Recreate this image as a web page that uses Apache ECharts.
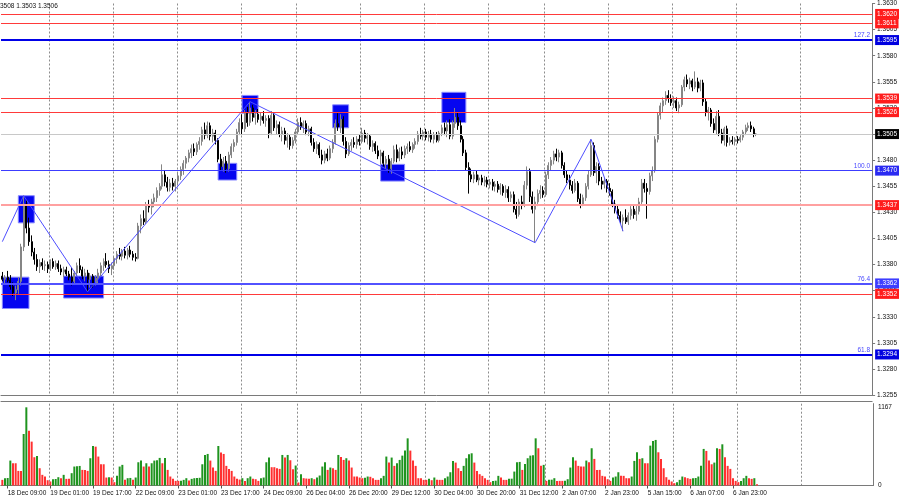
<!DOCTYPE html>
<html><head><meta charset="utf-8">
<script src="https://cdn.jsdelivr.net/npm/echarts@6/dist/echarts.min.js"></script>
<style>html,body{margin:0;padding:0;background:#fff}#c{width:900px;height:500px}</style>
</head><body><div id="c"></div>
<script>
// trading sessions (day, first hour, last hour) -> hourly categories
const sessions = [['18 Dec',7,23],['19 Dec',0,23],['22 Dec',0,23],['23 Dec',0,23],['24 Dec',0,20],['26 Dec',0,23],['29 Dec',0,23],['30 Dec',0,23],['31 Dec',0,20],['2 Jan',0,23],['5 Jan',0,23],['6 Jan',0,23],['7 Jan',0,23],['8 Jan',0,23],['9 Jan',0,3]];

// hourly candles [open, high, low, close]
const candles = [
[1.3369,1.3373,1.3364,1.3366],[1.3366,1.3370,1.3362,1.3368],[1.3368,1.3374,1.3363,1.3365],[1.3365,1.3370,1.3356,1.3359],[1.3359,1.3363,1.3350,1.3353],
[1.3353,1.3360,1.3346,1.3356],[1.3356,1.3368,1.3352,1.3364],[1.3364,1.3400,1.3360,1.3397],[1.3397,1.3446,1.3393,1.3438],[1.3438,1.3442,1.3410,1.3415],
[1.3415,1.3425,1.3398,1.3402],[1.3402,1.3408,1.3388,1.3392],[1.3392,1.3396,1.3380,1.3385],[1.3385,1.3390,1.3374,1.3378],[1.3378,1.3385,1.3372,1.3382],
[1.3382,1.3386,1.3375,1.3379],[1.3379,1.3384,1.3374,1.3380],[1.3380,1.3383,1.3372,1.3376],[1.3376,1.3385,1.3374,1.3383],[1.3383,1.3386,1.3376,1.3378],
[1.3378,1.3384,1.3375,1.3381],[1.3381,1.3384,1.3373,1.3376],[1.3376,1.3380,1.3370,1.3373],[1.3373,1.3378,1.3368,1.3375],[1.3375,1.3378,1.3369,1.3371],
[1.3371,1.3374,1.3365,1.3368],[1.3368,1.3377,1.3360,1.3364],[1.3364,1.3374,1.3362,1.3372],[1.3372,1.3382,1.3369,1.3379],[1.3379,1.3386,1.3372,1.3375],
[1.3375,1.3378,1.3366,1.3369],[1.3369,1.3376,1.3364,1.3372],[1.3372,1.3375,1.3354,1.3366],[1.3366,1.3372,1.3358,1.3369],[1.3369,1.3371,1.3358,1.3361],
[1.3361,1.3370,1.3360,1.3367],[1.3367,1.3376,1.3362,1.3372],[1.3372,1.3382,1.3368,1.3379],[1.3379,1.3386,1.3374,1.3383],[1.3383,1.3391,1.3377,1.3380],
[1.3380,1.3384,1.3372,1.3376],[1.3376,1.3382,1.3370,1.3379],[1.3379,1.3388,1.3375,1.3386],[1.3386,1.3393,1.3381,1.3390],[1.3390,1.3396,1.3385,1.3388],
[1.3388,1.3395,1.3384,1.3393],[1.3393,1.3397,1.3386,1.3389],[1.3389,1.3396,1.3385,1.3394],[1.3394,1.3398,1.3387,1.3390],[1.3390,1.3393,1.3384,1.3387],
[1.3387,1.3391,1.3383,1.3386],[1.3386,1.3420,1.3385,1.3417],[1.3417,1.3428,1.3410,1.3424],[1.3424,1.3432,1.3418,1.3421],[1.3421,1.3440,1.3419,1.3437],
[1.3437,1.3442,1.3430,1.3435],[1.3435,1.3443,1.3428,1.3440],[1.3440,1.3448,1.3435,1.3444],[1.3444,1.3454,1.3440,1.3451],[1.3451,1.3458,1.3446,1.3455],
[1.3455,1.3476,1.3452,1.3466],[1.3466,1.3470,1.3455,1.3459],[1.3459,1.3464,1.3450,1.3454],[1.3454,1.3462,1.3450,1.3458],[1.3458,1.3463,1.3451,1.3455],
[1.3455,1.3462,1.3450,1.3460],[1.3460,1.3468,1.3456,1.3465],[1.3465,1.3474,1.3461,1.3471],[1.3471,1.3480,1.3466,1.3477],[1.3477,1.3484,1.3472,1.3482],
[1.3482,1.3490,1.3478,1.3487],[1.3487,1.3495,1.3482,1.3491],[1.3491,1.3496,1.3484,1.3488],[1.3488,1.3497,1.3485,1.3495],[1.3495,1.3502,1.3490,1.3498],
[1.3498,1.3512,1.3494,1.3509],[1.3509,1.3516,1.3500,1.3504],[1.3504,1.3517,1.3501,1.3513],[1.3513,1.3516,1.3499,1.3503],[1.3503,1.3510,1.3497,1.3506],
[1.3506,1.3509,1.3495,1.3499],[1.3499,1.3501,1.3478,1.3481],[1.3481,1.3486,1.3470,1.3474],[1.3474,1.3483,1.3469,1.3479],[1.3479,1.3484,1.3468,1.3472],
[1.3472,1.3488,1.3469,1.3485],[1.3485,1.3496,1.3482,1.3493],[1.3493,1.3500,1.3488,1.3497],[1.3497,1.3510,1.3494,1.3507],[1.3507,1.3520,1.3504,1.3516],
[1.3516,1.3524,1.3505,1.3510],[1.3510,1.3528,1.3507,1.3525],[1.3525,1.3531,1.3512,1.3516],[1.3516,1.3536,1.3513,1.3530],[1.3530,1.3533,1.3517,1.3521],
[1.3521,1.3528,1.3514,1.3524],[1.3524,1.3529,1.3516,1.3519],[1.3519,1.3526,1.3513,1.3522],[1.3522,1.3527,1.3515,1.3518],[1.3518,1.3523,1.3512,1.3520],
[1.3520,1.3523,1.3501,1.3506],[1.3506,1.3527,1.3504,1.3523],[1.3523,1.3526,1.3508,1.3511],[1.3511,1.3518,1.3505,1.3514],[1.3514,1.3517,1.3502,1.3505],
[1.3505,1.3512,1.3498,1.3508],[1.3508,1.3511,1.3495,1.3499],[1.3499,1.3506,1.3492,1.3502],[1.3502,1.3505,1.3490,1.3494],[1.3494,1.3502,1.3491,1.3499],
[1.3499,1.3510,1.3496,1.3507],[1.3507,1.3520,1.3504,1.3516],[1.3516,1.3521,1.3509,1.3512],[1.3512,1.3518,1.3506,1.3515],[1.3515,1.3518,1.3504,1.3507],
[1.3507,1.3513,1.3503,1.3510],[1.3510,1.3512,1.3494,1.3497],[1.3497,1.3501,1.3488,1.3491],[1.3491,1.3498,1.3486,1.3495],[1.3495,1.3497,1.3482,1.3485],
[1.3485,1.3490,1.3476,1.3480],[1.3480,1.3489,1.3477,1.3486],[1.3486,1.3491,1.3479,1.3482],[1.3482,1.3494,1.3480,1.3491],[1.3491,1.3500,1.3487,1.3497],
[1.3497,1.3519,1.3495,1.3515],[1.3515,1.3525,1.3508,1.3512],[1.3512,1.3524,1.3506,1.3519],[1.3519,1.3522,1.3494,1.3498],[1.3498,1.3502,1.3482,1.3486],
[1.3486,1.3497,1.3484,1.3494],[1.3494,1.3500,1.3489,1.3497],[1.3497,1.3502,1.3492,1.3495],[1.3495,1.3503,1.3491,1.3500],[1.3500,1.3505,1.3494,1.3498],
[1.3498,1.3511,1.3496,1.3506],[1.3506,1.3509,1.3497,1.3501],[1.3501,1.3506,1.3495,1.3503],[1.3503,1.3505,1.3490,1.3493],[1.3493,1.3499,1.3488,1.3496],
[1.3496,1.3498,1.3486,1.3489],[1.3489,1.3494,1.3481,1.3484],[1.3484,1.3490,1.3476,1.3487],[1.3487,1.3489,1.3474,1.3477],[1.3477,1.3484,1.3472,1.3481],
[1.3481,1.3485,1.3468,1.3472],[1.3472,1.3482,1.3467,1.3479],[1.3479,1.3494,1.3477,1.3490],[1.3490,1.3495,1.3478,1.3482],[1.3482,1.3492,1.3479,1.3488],
[1.3488,1.3493,1.3481,1.3485],[1.3485,1.3494,1.3482,1.3491],[1.3491,1.3496,1.3486,1.3493],[1.3493,1.3498,1.3488,1.3490],[1.3490,1.3497,1.3487,1.3495],
[1.3495,1.3501,1.3491,1.3498],[1.3498,1.3508,1.3495,1.3505],[1.3505,1.3511,1.3500,1.3503],[1.3503,1.3509,1.3499,1.3507],[1.3507,1.3510,1.3499,1.3502],
[1.3502,1.3508,1.3498,1.3505],[1.3505,1.3509,1.3497,1.3500],[1.3500,1.3507,1.3496,1.3504],[1.3504,1.3507,1.3497,1.3499],[1.3499,1.3508,1.3497,1.3506],
[1.3506,1.3514,1.3503,1.3511],[1.3511,1.3516,1.3504,1.3508],[1.3508,1.3518,1.3502,1.3514],[1.3514,1.3519,1.3500,1.3503],[1.3503,1.3518,1.3500,1.3515],
[1.3515,1.3530,1.3511,1.3521],[1.3521,1.3526,1.3509,1.3513],[1.3513,1.3518,1.3497,1.3500],[1.3500,1.3503,1.3484,1.3487],[1.3487,1.3490,1.3470,1.3473],
[1.3473,1.3478,1.3448,1.3466],[1.3466,1.3472,1.3459,1.3462],[1.3462,1.3469,1.3458,1.3466],[1.3466,1.3470,1.3459,1.3461],[1.3461,1.3466,1.3456,1.3463],
[1.3463,1.3466,1.3456,1.3459],[1.3459,1.3465,1.3455,1.3461],[1.3461,1.3464,1.3454,1.3457],[1.3457,1.3462,1.3453,1.3459],[1.3459,1.3462,1.3451,1.3455],
[1.3455,1.3460,1.3450,1.3457],[1.3457,1.3460,1.3449,1.3452],[1.3452,1.3458,1.3447,1.3455],[1.3455,1.3457,1.3446,1.3449],[1.3449,1.3456,1.3444,1.3452],
[1.3452,1.3455,1.3440,1.3444],[1.3444,1.3450,1.3440,1.3447],[1.3447,1.3450,1.3430,1.3433],[1.3433,1.3440,1.3424,1.3428],[1.3428,1.3443,1.3426,1.3440],
[1.3440,1.3446,1.3433,1.3437],[1.3437,1.3460,1.3435,1.3456],[1.3456,1.3474,1.3452,1.3469],[1.3469,1.3472,1.3440,1.3445],[1.3445,1.3450,1.3429,1.3433],
[1.3433,1.3445,1.3401,1.3440],[1.3440,1.3452,1.3436,1.3448],[1.3448,1.3456,1.3443,1.3451],[1.3451,1.3455,1.3444,1.3447],[1.3447,1.3469,1.3445,1.3466],
[1.3466,1.3478,1.3462,1.3475],[1.3475,1.3483,1.3470,1.3480],[1.3480,1.3489,1.3476,1.3486],[1.3486,1.3491,1.3479,1.3483],[1.3483,1.3490,1.3478,1.3487],
[1.3487,1.3489,1.3472,1.3475],[1.3475,1.3478,1.3463,1.3466],[1.3466,1.3470,1.3458,1.3461],[1.3461,1.3466,1.3452,1.3456],[1.3456,1.3460,1.3448,1.3451],
[1.3451,1.3462,1.3449,1.3458],[1.3458,1.3460,1.3440,1.3443],[1.3443,1.3448,1.3434,1.3438],[1.3438,1.3447,1.3436,1.3444],[1.3444,1.3458,1.3441,1.3455],
[1.3455,1.3470,1.3452,1.3466],[1.3466,1.3500,1.3464,1.3494],[1.3494,1.3497,1.3465,1.3468],[1.3468,1.3478,1.3458,1.3474],[1.3474,1.3477,1.3456,1.3460],
[1.3460,1.3464,1.3452,1.3457],[1.3457,1.3463,1.3453,1.3460],[1.3460,1.3462,1.3449,1.3453],[1.3453,1.3458,1.3446,1.3450],[1.3450,1.3452,1.3435,1.3438],
[1.3438,1.3442,1.3429,1.3433],[1.3433,1.3438,1.3424,1.3427],[1.3427,1.3431,1.3419,1.3422],[1.3422,1.3428,1.3412,1.3425],[1.3425,1.3433,1.3419,1.3421],
[1.3421,1.3430,1.3418,1.3427],[1.3427,1.3436,1.3423,1.3433],[1.3433,1.3437,1.3424,1.3428],[1.3428,1.3436,1.3422,1.3431],[1.3431,1.3444,1.3428,1.3440],
[1.3440,1.3462,1.3437,1.3458],[1.3458,1.3462,1.3449,1.3453],[1.3453,1.3458,1.3424,1.3450],[1.3450,1.3468,1.3447,1.3465],[1.3465,1.3474,1.3460,1.3470],
[1.3470,1.3503,1.3468,1.3500],[1.3500,1.3526,1.3497,1.3523],[1.3523,1.3535,1.3519,1.3532],[1.3532,1.3540,1.3526,1.3537],[1.3537,1.3546,1.3533,1.3542],
[1.3542,1.3547,1.3535,1.3539],[1.3539,1.3543,1.3532,1.3535],[1.3535,1.3541,1.3530,1.3537],[1.3537,1.3540,1.3527,1.3530],[1.3530,1.3536,1.3525,1.3533],
[1.3533,1.3552,1.3531,1.3550],[1.3550,1.3560,1.3546,1.3557],[1.3557,1.3562,1.3550,1.3553],[1.3553,1.3559,1.3548,1.3556],[1.3556,1.3558,1.3546,1.3550],
[1.3550,1.3565,1.3548,1.3555],[1.3555,1.3559,1.3545,1.3549],[1.3549,1.3557,1.3546,1.3554],[1.3554,1.3557,1.3532,1.3536],[1.3536,1.3539,1.3522,1.3526],
[1.3526,1.3531,1.3518,1.3528],[1.3528,1.3530,1.3512,1.3515],[1.3515,1.3520,1.3506,1.3509],[1.3509,1.3527,1.3505,1.3522],[1.3522,1.3528,1.3503,1.3506],
[1.3506,1.3510,1.3496,1.3499],[1.3499,1.3512,1.3494,1.3510],[1.3510,1.3513,1.3493,1.3497],[1.3497,1.3502,1.3494,1.3499],[1.3499,1.3503,1.3495,1.3498],
[1.3498,1.3502,1.3494,1.3500],[1.3500,1.3503,1.3496,1.3499],[1.3499,1.3504,1.3497,1.3502],[1.3502,1.3509,1.3499,1.3507],[1.3507,1.3514,1.3504,1.3511],
[1.3511,1.3516,1.3508,1.3513],[1.3513,1.3517,1.3507,1.3510],[1.3510,1.3512,1.3502,1.3505],[1.3505,1.3506,1.3503,1.3505]
];

// tick volumes per bar
const volumes = [
84,109,112,372,332,332,218,218,769,1167,818,655,422,441,258,159,134,79,60,94,
97,124,109,159,99,99,184,283,288,292,233,233,218,407,590,580,432,317,317,119,
124,119,50,144,283,308,84,109,113,84,119,347,372,283,332,283,332,372,377,412,
332,412,233,134,99,69,69,72,84,109,74,99,109,112,115,317,456,471,372,268,
218,590,491,471,293,248,218,134,99,89,109,69,109,134,99,94,69,109,119,347,
417,273,273,258,248,456,417,456,377,243,298,45,169,109,104,99,109,94,119,149,
283,347,233,268,258,233,456,427,382,407,372,268,134,134,119,109,114,134,130,109,
84,84,109,144,432,342,417,293,332,382,446,521,704,521,372,293,109,109,84,84,
99,79,119,84,84,84,109,134,198,367,342,258,218,293,407,466,481,342,218,169,
144,109,84,50,69,72,144,119,84,84,99,102,208,347,352,233,322,407,446,451,
704,556,293,308,69,84,87,109,69,69,69,72,94,268,422,372,293,283,283,372,
347,556,397,233,233,144,134,94,69,119,134,198,144,144,109,109,134,367,496,397,
407,332,332,595,665,680,496,397,258,124,84,60,35,50,84,134,124,109,99,109,
112,134,293,546,516,372,317,342,556,546,615,422,293,248,109,69,50,69,109,144,
109,99,109,20
];

// horizontal levels
const levels     = [1.3620, 1.3611, 1.3595, 1.3539, 1.3526, 1.3505, 1.3470, 1.3437, 1.3362, 1.3352, 1.3294];
const levelKinds = ['res','res','fibA','res','res','price','fibB','res2','fibC','res','fibA'];
const fibLevels  = [1.3595, 1.3470, 1.3362, 1.3294];
const fibNames   = ['127.2','100.0','76.4','61.8'];

// zigzag vertices (bar index, price)
const zigzagIdx = [0, 8, 32, 93, 200, 221, 233];
const zigzagVal = [1.3402, 1.3446, 1.3354, 1.3536, 1.3401, 1.3500, 1.3412];

// blue boxes [first bar, last bar, low price, high price]
const boxes = [[0,10,1.3338,1.3368],[6,12,1.3420,1.3446],[23,38,1.3348,1.3369],[81,88,1.3461,1.3477],
               [90,96,1.3525,1.3542],[124,130,1.3511,1.3533],[142,151,1.3460,1.3476],[165,174,1.3516,1.3545]];

const priceBottom = 1.3255, priceTop = 1.3630, priceStep = 0.0025;
const volTick = 1167, volTop = 1221;
const headerText = '3508 1.3503 1.3506';

// ---------- build ----------
const categories = [];
sessions.forEach(([d, h0, h1]) => { for (let h = h0; h <= h1; h++) categories.push(d + ' ' + String(h).padStart(2, '0') + ':00'); });
const P = p => Math.round((p - priceBottom) * 1e6) / 100;   // price -> pips above axis bottom
const FONT = 'Liberation Sans';
const FS = 6.5;
const nBars = candles.length;

const styles = {
  res:   {line: {color: '#ff3a3a', width: 1}, box: '#ff1c1c'},
  res2:  {line: {color: '#ffa0a0', width: 2}, box: '#ff1c1c'},
  fibA:  {line: {color: '#0000e8', width: 2}, box: '#0000e0'},
  fibB:  {line: {color: '#3c3cff', width: 1}, box: '#2a2af2'},
  fibC:  {line: {color: '#5252ff', width: 2}, box: '#3d3dff'},
  price: {line: {color: '#c8c8c8', width: 1}, box: '#000000'}
};

const zz = categories.map(() => null);
zigzagIdx.forEach((i, k) => { zz[i] = P(zigzagVal[k]); });

const isDayStart = (i, v) => i <= 300 && / 01:00$/.test(categories[i]);
const isLabel = (i) => i % 16 === 2 && i < nBars;
const split = {show: true, interval: isDayStart, lineStyle: {color: '#8c8c8c', type: [2, 2], width: 1}};
const frame = {show: true, lineStyle: {color: '#7a7a7a', width: 1}};

const chart = echarts.init(document.getElementById('c'), null, {renderer: 'canvas'});
chart.setOption({
  animation: false,
  backgroundColor: '#ffffff',
  title: {text: headerText, left: 0, top: 3, padding: 0,
          textStyle: {fontSize: FS, fontWeight: 'normal', color: '#111', fontFamily: FONT}},
  grid: [
    {left: 1, right: 27, top: 1.8, bottom: 104.8},
    {left: 1, right: 27, top: 403.7, bottom: 14.5}
  ],
  xAxis: [
    {gridIndex: 0, type: 'category', data: categories, position: 'top', boundaryGap: true,
     axisLine: frame, axisTick: {show: false}, axisLabel: {show: false}, splitLine: split},
    {gridIndex: 0, type: 'category', data: categories, position: 'bottom', offset: 5.8,
     axisLine: frame, axisTick: {show: false}, axisLabel: {show: false}, splitLine: {show: false}},
    {gridIndex: 1, type: 'category', data: categories, position: 'top',
     axisLine: frame, axisTick: {show: false}, axisLabel: {show: false}, splitLine: {show: false}},
    {gridIndex: 1, type: 'category', data: categories, position: 'bottom', boundaryGap: true,
     axisLine: frame,
     axisTick: {show: true, interval: isLabel, alignWithLabel: true, length: 3, lineStyle: {color: '#555'}},
     axisLabel: {show: true, interval: isLabel, align: 'left', margin: 4, fontSize: FS, color: '#111', fontFamily: FONT},
     splitLine: split}
  ],
  yAxis: [
    {gridIndex: 0, type: 'value', position: 'right', min: 0, max: P(priceTop), interval: priceStep * 1e4,
     axisLine: {show: true, lineStyle: {color: '#7a7a7a'}},
     axisTick: {show: true, length: 3, lineStyle: {color: '#7a7a7a'}},
     splitLine: {show: false},
     axisLabel: {margin: 5, fontSize: FS, color: '#111', fontFamily: FONT,
                 formatter: v => (priceBottom + v / 1e4).toFixed(4)}},
    {gridIndex: 1, type: 'value', position: 'right', min: 0, max: volTop, interval: volTick,
     axisLine: {show: true, lineStyle: {color: '#7a7a7a'}},
     axisTick: {show: false}, splitLine: {show: false},
     axisLabel: {margin: 5, fontSize: FS, color: '#111', fontFamily: FONT, showMaxLabel: false,
                 formatter: v => String(Math.round(v))}}
  ],
  series: [
    {type: 'line', xAxisIndex: 0, yAxisIndex: 0, data: [], z: 1, silent: true,
     markArea: {silent: true, itemStyle: {color: '#0505f0', borderColor: '#8a8aff', borderWidth: 1},
       data: boxes.map(([a, b, lo, hi]) => [{xAxis: categories[a], yAxis: P(hi)}, {xAxis: categories[b], yAxis: P(lo)}])}},
    {type: 'candlestick', xAxisIndex: 0, yAxisIndex: 0, barWidth: 1.5, z: 3,
     data: candles.map(([o, h, l, c]) => [P(o), P(c), P(l), P(h)]),
     itemStyle: {color: '#b4b4b4', borderColor: '#858585', color0: '#000000', borderColor0: '#000000', borderWidth: 1},
     markLine: {silent: true, symbol: ['none', 'none'], animation: false,
       data: levels.map((p, i) => ({
         yAxis: P(p),
         lineStyle: {type: 'solid', color: styles[levelKinds[i]].line.color, width: styles[levelKinds[i]].line.width},
         label: {show: true, position: 'end', distance: 3, formatter: p.toFixed(4), color: '#fff',
                 backgroundColor: styles[levelKinds[i]].box, padding: [2, 2, 1, 2], fontSize: FS, fontFamily: FONT}
       }))}},
    {type: 'line', xAxisIndex: 0, yAxisIndex: 0, data: [], silent: true, z: 5,
     markLine: {silent: true, symbol: ['none', 'none'], animation: false,
       lineStyle: {color: 'rgba(0,0,0,0)', width: 1, type: 'solid'},
       label: {show: true, position: 'insideEndTop', distance: [2, 1], color: '#4848ff', fontSize: FS, fontFamily: FONT},
       data: fibLevels.map((p, i) => ({
         yAxis: P(p), name: fibNames[i],
         label: {show: true, position: 'insideEndTop', formatter: fibNames[i], color: '#4848ff', fontSize: FS, fontFamily: FONT}
       }))}},
    {type: 'line', xAxisIndex: 0, yAxisIndex: 0, data: zz, connectNulls: true, showSymbol: false,
     symbol: 'none', z: 4, silent: true, lineStyle: {color: '#4f4fff', width: 1}},
    {type: 'bar', xAxisIndex: 3, yAxisIndex: 1, barWidth: 2,
     data: volumes.map((v, i) => ({value: v,
       itemStyle: {color: (i > 0 && v > volumes[i - 1]) ? '#1f941f' : '#ff3030'}}))}
  ]
});
</script></body></html>
